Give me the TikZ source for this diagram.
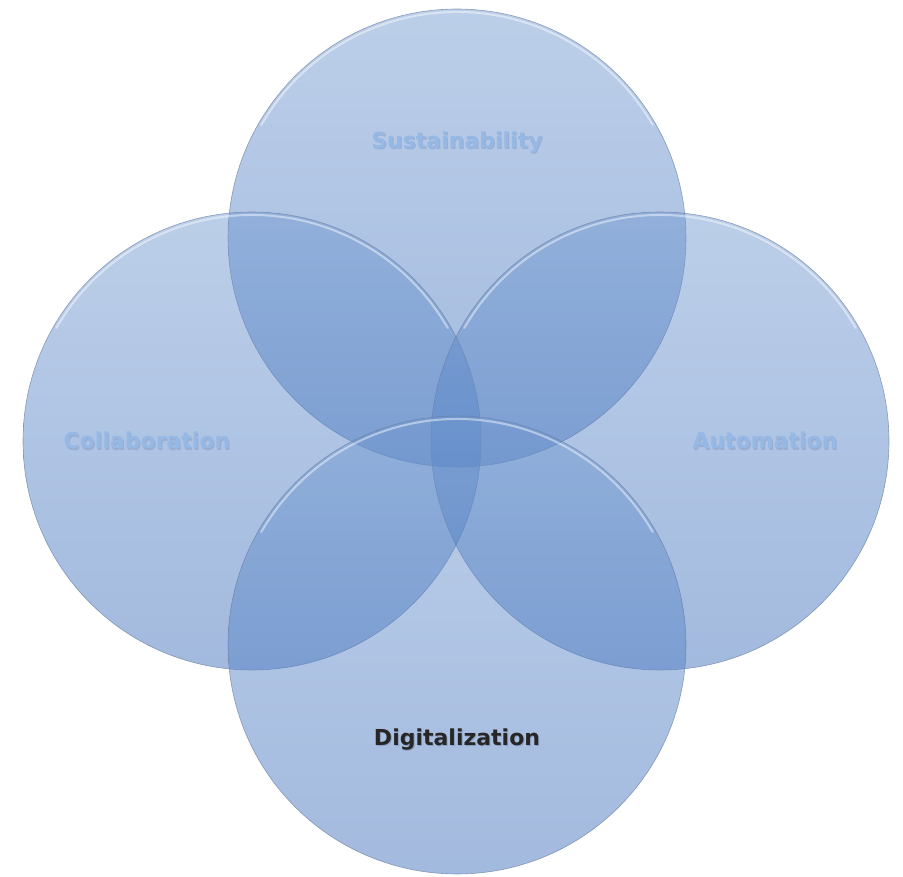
\documentclass[tikz,border=0pt]{standalone}
\usepackage{fontspec}
\setmainfont{DejaVu Sans}
\usepackage{tikz}
\definecolor{ringtop}{RGB}{112,152,208}
\definecolor{ringbot}{RGB}{58,108,186}
\definecolor{ringedge}{RGB}{105,125,160}
\definecolor{labelblue}{RGB}{150,184,229}
\definecolor{labelshadow}{RGB}{152,174,210}
\definecolor{mainshadow}{RGB}{140,158,192}
% text with a soft drop shadow beneath it
\newcommand{\shadowtext}[2]{\makebox[0pt][l]{\kern1pt\raisebox{-1.8pt}{\textcolor{#1}{#2}}}#2}
\tikzset{
  ring/.style={circle, minimum size=458pt, inner sep=0pt, draw=ringedge, line width=0.6pt,
    top color=ringtop, bottom color=ringbot, fill opacity=0.47, draw opacity=0.7},
  gloss/.style={white, line width=2pt, opacity=0.45, line cap=round},
  faded/.style={text=labelblue, font=\fontsize{22}{26}\bfseries\selectfont},
  mainlbl/.style={text=black!85, font=\fontsize{22}{26}\bfseries\selectfont},
}

\begin{document}
\begin{tikzpicture}[x=1pt,y=-1pt]
\useasboundingbox (0,0) rectangle (903,877);
%RINGS
\node[ring] (sust) at (457,238) {};
\node[ring] (collab) at (252,441) {};
\node[ring] (auto) at (660,441) {};
\node[ring] (digit) at (457,645) {};
% gloss on the upper rims
\foreach \r in {sust,collab,auto,digit}
  \draw[gloss] (\r.center) ++(150:226pt) arc[start angle=150, end angle=30, radius=226pt];
%LABELS
\node[faded] (sustlbl) at (457,143) {\shadowtext{labelshadow}{Sustainability}};
\node[faded] (collablbl) at (147,441) {\shadowtext{labelshadow}{Collaboration}};
\node[faded] (autolbl) at (765,441) {\shadowtext{labelshadow}{Automation}};
\node[mainlbl] (digitlbl) at (457,740) {\shadowtext{mainshadow}{Digitalization}};
\end{tikzpicture}
\end{document}
